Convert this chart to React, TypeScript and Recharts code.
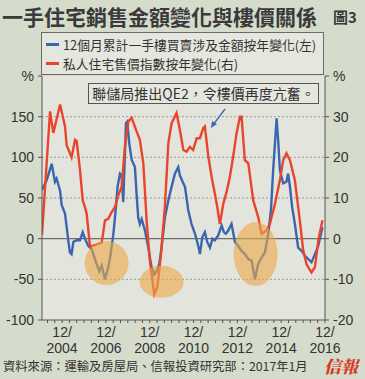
import React from 'react';
import {
    ComposedChart, Line, XAxis, YAxis, CartesianGrid, ReferenceLine, ReferenceDot,
} from 'recharts';

// month index: 0 = Jan 2004, 155 = Dec 2016
const blueMonths = [
    0, 2.6, 5.3, 7.1, 8, 9.9, 10.8, 12.6, 14.4, 15.3, 16.2, 17.2, 19, 20.8, 22.3, 23.5,
    25.4, 27.2, 29, 29.9, 31.4, 32.7, 34.5, 36.3, 37.6, 39.1, 40.5, 41.4, 42.7, 43.6,
    44.5, 46, 46.7, 47.8, 49.1, 50.9, 51.8, 52.7, 53.6, 54.6, 56.4, 58.2, 60, 61.5,
    62.8, 64.2, 65.5, 67.3, 69.2, 71, 72.8, 74.6, 75.5, 77, 78.3, 80.1, 81.9, 83.8,
    85.6, 86.5, 87.8, 89.2, 90.5, 92, 93.4, 94.7, 96.5, 98.4, 99.6, 100.7, 102, 103.8,
    105.7, 107.5, 109.3, 111.1, 113, 114.8, 116.6, 118.4, 120.3, 122.1, 123.9, 125.4,
    126.6, 127.7, 128.5, 129.4, 130.3, 132.1, 133.9, 134.8, 135.8, 137, 138.5, 140.3,
    142.2, 144, 145.8, 147.6, 149.5, 151.3, 153.6,
];
const blueValues = [
    60, 72, 92, 70, 74, 59, 41, 31, -2, -17, -19, -4, -2, -2, 8, 0,
    -9, -13, -25, -31, -40, -33, -50, -35, -19, 6, 39, 64, 80, 78,
    45, 142, 144, 117, 97, 88, 55, 26, 18, 24, 10, -11, -35, -44,
    -40, -31, -11, 26, 47, 64, 80, 88, 78, 70, 64, 35, 18, 6,
    -9, -19, 2, 8, -4, -11, 0, -2, 4, 16, 8, 6, 10, 18,
    -4, -9, -15, -19, -25, -27, -50, -31, -23, -17, 6, 35,
    84, 121, 148, 119, 84, 68, 70, 80, 64, 39, 18, -11,
    -15, -21, -25, -29, -19, -9, 14,
];

const redMonths = [
    0, 4.4, 6.2, 9.9, 12.6, 13.5, 16.2, 18.1, 19, 20.8, 22.3, 23.5, 24.5, 26.3, 28.1,
    30.8, 32.7, 34.5, 36.3, 38.1, 40, 41.8, 43.6, 45.4, 47.3, 49.1, 51.8, 53.6, 55.5,
    57.3, 59.1, 61.5, 63.1, 65, 67.3, 69.2, 71, 73.7, 75.5, 77.4, 79.2, 81, 82.8, 84.7,
    86.5, 88.3, 89.2, 91.1, 92.9, 94.7, 96, 97.4, 99.3, 101.1, 102.9, 104.7, 106.6,
    108.4, 109.3, 111.1, 113, 115.7, 118.4, 120.3, 123, 124.8, 127.6, 130.3, 132.1,
    133.9, 135.8, 138.5, 141.2, 143.1, 144.9, 147.6, 149.5, 151.3, 153.6,
];
const redValues = [
    1, 31.3, 26, 33, 27.6, 23, 20, 24.3, 24, 17, 9.4, 7.8, 6, -2, -1.7,
    -1.3, -1, 4.5, 4.9, 6.5, 7.8, 10.7, 12.7, 22.6, 28.8, 29.7, 26.4, 24.3, 18.5,
    4.5, -5.5, -13.7, -12, -4.6, 7.8, 23.5, 28.4, 30.9, 26.8, 21.8, 21.4, 22.6, 21.8, 24.7,
    24.7, 27.2, 27.6, 20.2, 15.2, 11, 7.8, 3.6, 8.6, 11.5, 15.2, 20.2, 26,
    30, 30, 19.3, 18.5, 9.4, 5.3, 1.2, 2, 3.6, 8.6, 14.4, 19.3,
    21, 19.3, 14.4, 4.5, -3, -6.3, -8.3, -7, -0.5, 4.5,
];

// highlighted troughs (month, left-axis value)
const circleMonths = [35.4, 65.5, 117];
const circleValues = [-30, -53, -19];

const yearLabels = ['2004', '2006', '2008', '2010', '2012', '2014', '2016'];
const leftTicks = [-100, -50, 0, 50, 100, 150, 200];
const rightTicks = [-20, -10, 0, 10, 20, 30, 40];

const circleSizes = [[22, 22], [22, 16], [22, 32]];

const monthSet = Array.from(new Set([...blueMonths, ...redMonths])).sort((a, b) => a - b);
const data = monthSet.map((m) => {
    const bi = blueMonths.indexOf(m);
    const ri = redMonths.indexOf(m);
    return {
        m,
        blue: bi >= 0 ? blueValues[bi] : null,
        red: ri >= 0 ? redValues[ri] : null,
    };
});

const xTicks: number[] = [];
for (let m = 3; m <= 155; m += 4) xTicks.push(m);

const FONT = '"Liberation Sans", Arial, sans-serif';
const CJK = '"Noto Sans CJK TC", "Noto Sans CJK SC", sans-serif';
const TEXT = '#333';

const XTick = (props: any) => {
    const { x, y, payload } = props;
    const m = payload.value;
    if ((m - 11) % 24 !== 0) return null;
    const year = yearLabels[(m - 11) / 24];
    return (
        <g>
            <text x={x} y={y + 12} textAnchor="middle" fontSize={14} fill={TEXT} fontFamily={FONT}>12/</text>
            <text x={x} y={y + 28} textAnchor="middle" fontSize={14} fill={TEXT} fontFamily={FONT}>{year}</text>
        </g>
    );
};

const Ellipse = (idx: number) => (props: any) => (
    <ellipse
        cx={props.cx}
        cy={props.cy}
        rx={circleSizes[idx][0]}
        ry={circleSizes[idx][1]}
        fill="#eba846"
        fillOpacity={0.6}
    />
);

const LegendBox = () => (
    <div style={{
        position: 'absolute', left: 41, top: 32, width: 283, height: 43,
        border: '1px solid #6a6a6a', background: '#e5e7df', boxSizing: 'border-box',
        fontFamily: CJK, fontSize: 12.8, color: TEXT, padding: '2px 0 0 4px',
    }}>
        <div style={{ display: 'flex', alignItems: 'center', height: 19, whiteSpace: 'nowrap' }}>
            <span style={{ display: 'inline-block', width: 13, height: 3, background: '#3a66b0', marginRight: 4 }} />
            12個月累計一手樓買賣涉及金額按年變化(左)
        </div>
        <div style={{ display: 'flex', alignItems: 'center', height: 19, whiteSpace: 'nowrap' }}>
            <span style={{ display: 'inline-block', width: 13, height: 3, background: '#e8452c', marginRight: 4 }} />
            私人住宅售價指數按年變化(右)
        </div>
    </div>
);

const App = () => {
    return (
        <div style={{ position: 'absolute', left: 0, top: 0, width: 365, height: 379, background: '#d6dccb', overflow: 'hidden' }}>
            <div style={{
                position: 'absolute', left: 2, top: 2, fontFamily: CJK, fontWeight: 700,
                fontSize: 21, color: '#3a3a3a', lineHeight: '28px', letterSpacing: 0,
            }}>
                一手住宅銷售金額變化與樓價關係
            </div>
            <div style={{
                position: 'absolute', left: 333, top: 7, fontFamily: CJK, fontWeight: 700,
                fontSize: 15, color: '#3a3a3a', lineHeight: '20px',
            }}>
                圖3
            </div>

            <div style={{ position: 'absolute', left: 0, top: 0 }}>
                <ComposedChart width={365} height={379} data={data} margin={{ top: 76, right: 0, bottom: 19, left: 0 }}>
                    <CartesianGrid
                        yAxisId="left"
                        vertical={false}
                        horizontalValues={[-50, 50, 100, 150]}
                        stroke="#9a9a9a"
                        strokeDasharray="2 2"
                        fill="#e3e5dd"
                    />
                    <XAxis
                        dataKey="m"
                        type="number"
                        domain={[0, 155]}
                        ticks={xTicks}
                        interval={0}
                        tick={<XTick />}
                        tickSize={3}
                        height={40}
                        stroke="#555"
                        allowDataOverflow
                    />
                    <YAxis
                        yAxisId="left"
                        domain={[-100, 200]}
                        ticks={leftTicks}
                        interval={0}
                        width={42}
                        tickSize={4}
                        tickMargin={4}
                        stroke="#555"
                        tick={{ fontSize: 14, fill: TEXT, fontFamily: FONT }}
                        tickFormatter={(v: number) => (v === 200 ? '%' : String(v))}
                    />
                    <YAxis
                        yAxisId="right"
                        orientation="right"
                        domain={[-20, 40]}
                        ticks={rightTicks}
                        interval={0}
                        width={40}
                        tickSize={4}
                        tickMargin={4}
                        stroke="#555"
                        tick={{ fontSize: 14, fill: TEXT, fontFamily: FONT }}
                        tickFormatter={(v: number) => (v === 40 ? '%' : String(v))}
                    />
                    <ReferenceLine yAxisId="left" y={0} stroke="#6e6e6e" strokeWidth={1.2} />
                    {circleMonths.map((m, i) => (
                        <ReferenceDot
                            key={i}
                            yAxisId="left"
                            x={m}
                            y={circleValues[i]}
                            r={20}
                            shape={Ellipse(i)}
                        />
                    ))}
                    <Line
                        yAxisId="left"
                        dataKey="blue"
                        type="linear"
                        stroke="#3a66b0"
                        strokeWidth={2.4}
                        dot={false}
                        connectNulls
                        isAnimationActive={false}
                    />
                    <Line
                        yAxisId="right"
                        dataKey="red"
                        type="linear"
                        stroke="#e8452c"
                        strokeWidth={2.4}
                        dot={false}
                        connectNulls
                        isAnimationActive={false}
                    />
                </ComposedChart>
            </div>

            <LegendBox />

            <div style={{
                position: 'absolute', left: 88, top: 83, width: 231, height: 21, boxSizing: 'border-box',
                border: '1px solid #555', background: '#e5e7df', fontFamily: CJK, fontSize: 14,
                color: TEXT, lineHeight: '19px', textAlign: 'center', whiteSpace: 'nowrap',
            }}>
                聯儲局推出QE2，令樓價再度亢奮。
            </div>
            <svg style={{ position: 'absolute', left: 0, top: 0 }} width={365} height={379}>
                <line x1={225} y1={109} x2={213} y2={125} stroke="#3a66b0" strokeWidth={1.3} />
                <polygon points="211,128 212,121 217,124" fill="#3a66b0" />
            </svg>

            <div style={{
                position: 'absolute', left: 3, top: 357, fontFamily: CJK, fontSize: 12.3,
                color: TEXT, lineHeight: '18px', whiteSpace: 'nowrap',
            }}>
                資料來源：運輸及房屋局、信報投資研究部：2017年1月
            </div>
            <div style={{
                position: 'absolute', left: 324, top: 355, fontFamily: '"Noto Serif CJK TC", "Noto Sans CJK TC", serif',
                fontWeight: 900, fontSize: 17, color: '#d63a28', lineHeight: '22px', fontStyle: 'italic',
            }}>
                信報
            </div>
        </div>
    );
};

export default App;
